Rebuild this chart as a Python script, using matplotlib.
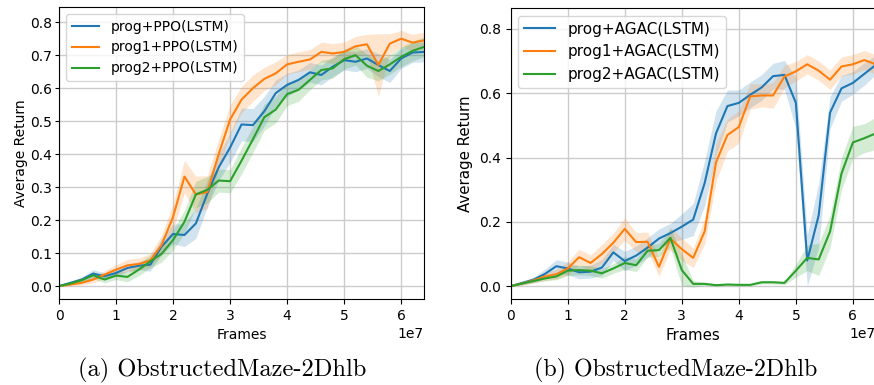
import numpy as np
import matplotlib
matplotlib.use("Agg")
import matplotlib.pyplot as plt

frames = np.arange(0, 33) * 2e6

# Panel (a): PPO
ppo_labels = ["prog+PPO(LSTM)", "prog1+PPO(LSTM)", "prog2+PPO(LSTM)"]
ppo_prog = [0, 0.01, 0.02, 0.038, 0.03, 0.04, 0.055, 0.062, 0.065, 0.12, 0.158, 0.155,
            0.19, 0.28, 0.36, 0.42, 0.49, 0.488, 0.53, 0.585, 0.61, 0.625, 0.648, 0.64,
            0.665, 0.685, 0.68, 0.69, 0.67, 0.652, 0.69, 0.708, 0.71]
ppo_prog1 = [0, 0.005, 0.01, 0.02, 0.035, 0.05, 0.063, 0.067, 0.078, 0.125, 0.21, 0.332,
             0.278, 0.285, 0.40, 0.505, 0.565, 0.60, 0.628, 0.645, 0.672, 0.68, 0.687, 0.71,
             0.705, 0.71, 0.727, 0.733, 0.67, 0.735, 0.75, 0.738, 0.745]
ppo_prog2 = [0, 0.008, 0.018, 0.033, 0.02, 0.032, 0.028, 0.05, 0.075, 0.098, 0.14, 0.195,
             0.278, 0.292, 0.32, 0.318, 0.38, 0.445, 0.512, 0.535, 0.582, 0.595, 0.625, 0.655,
             0.66, 0.688, 0.70, 0.668, 0.652, 0.672, 0.695, 0.713, 0.725]
ppo_prog_sd = [0, 0.004, 0.008, 0.012, 0.01, 0.01, 0.012, 0.012, 0.02, 0.025, 0.03, 0.035,
               0.045, 0.04, 0.04, 0.045, 0.05, 0.05, 0.045, 0.04, 0.035, 0.03, 0.03, 0.03,
               0.03, 0.03, 0.03, 0.03, 0.035, 0.035, 0.03, 0.03, 0.03]
ppo_prog1_sd = [0, 0.004, 0.006, 0.01, 0.012, 0.015, 0.018, 0.018, 0.02, 0.03, 0.04, 0.05,
                0.055, 0.05, 0.045, 0.045, 0.04, 0.04, 0.035, 0.035, 0.03, 0.03, 0.03, 0.03,
                0.03, 0.03, 0.03, 0.03, 0.095, 0.03, 0.025, 0.025, 0.025]
ppo_prog2_sd = [0, 0.005, 0.008, 0.01, 0.01, 0.012, 0.015, 0.018, 0.02, 0.025, 0.03, 0.035,
                0.04, 0.04, 0.035, 0.035, 0.04, 0.04, 0.04, 0.04, 0.035, 0.035, 0.03, 0.03,
                0.03, 0.03, 0.03, 0.035, 0.03, 0.03, 0.03, 0.03, 0.03]

# Panel (b): AGAC
agac_labels = ["prog+AGAC(LSTM)", "prog1+AGAC(LSTM)", "prog2+AGAC(LSTM)"]
agac_prog = [0, 0.01, 0.02, 0.038, 0.062, 0.055, 0.043, 0.045, 0.058, 0.105, 0.078, 0.095,
             0.12, 0.148, 0.165, 0.185, 0.207, 0.32, 0.475, 0.56, 0.57, 0.595, 0.618, 0.653,
             0.657, 0.57, 0.08, 0.22, 0.54, 0.615, 0.632, 0.66, 0.688]
agac_prog1 = [0, 0.008, 0.018, 0.03, 0.037, 0.055, 0.09, 0.072, 0.10, 0.135, 0.178, 0.137,
              0.138, 0.06, 0.148, 0.115, 0.088, 0.17, 0.385, 0.47, 0.495, 0.59, 0.593, 0.593,
              0.652, 0.668, 0.69, 0.67, 0.642, 0.683, 0.69, 0.703, 0.69]
agac_prog2 = [0, 0.008, 0.016, 0.024, 0.03, 0.048, 0.05, 0.048, 0.04, 0.055, 0.072, 0.065,
              0.11, 0.112, 0.15, 0.05, 0.007, 0.007, 0.003, 0.005, 0.004, 0.004, 0.012, 0.012,
              0.01, 0.048, 0.088, 0.083, 0.17, 0.35, 0.447, 0.46, 0.475]
agac_prog_sd = [0, 0.005, 0.008, 0.015, 0.02, 0.02, 0.02, 0.02, 0.025, 0.025, 0.03, 0.03,
                0.03, 0.03, 0.03, 0.04, 0.05, 0.07, 0.07, 0.05, 0.04, 0.04, 0.04, 0.04,
                0.045, 0.08, 0.08, 0.1, 0.05, 0.04, 0.035, 0.035, 0.03]
agac_prog1_sd = [0, 0.005, 0.008, 0.012, 0.015, 0.02, 0.025, 0.025, 0.03, 0.03, 0.035, 0.03,
                 0.03, 0.03, 0.035, 0.035, 0.03, 0.04, 0.06, 0.05, 0.05, 0.04, 0.035, 0.04,
                 0.035, 0.03, 0.03, 0.03, 0.03, 0.03, 0.03, 0.03, 0.03]
agac_prog2_sd = [0, 0.004, 0.006, 0.008, 0.01, 0.015, 0.015, 0.015, 0.015, 0.015, 0.02, 0.02,
                 0.02, 0.02, 0.03, 0.05, 0.01, 0.005, 0.004, 0.004, 0.004, 0.004, 0.005, 0.005,
                 0.005, 0.02, 0.04, 0.05, 0.05, 0.05, 0.05, 0.045, 0.05]

colors = ["#1f77b4", "#ff7f0e", "#2ca02c"]

fig = plt.figure(figsize=(8.74, 3.85), dpi=100)
ax1 = fig.add_axes([59 / 874, 1 - 299 / 385, 365 / 874, 292 / 385])
ax2 = fig.add_axes([510.7 / 874, 1 - 299 / 385, 365 / 874, 291 / 385])


def draw(ax, series, sds, labels, ylim, yticks, lab_fs, leg_fs):
    for y, sd, lab, c in zip(series, sds, labels, colors):
        y = np.array(y)
        sd = np.array(sd)
        ax.fill_between(frames, y - sd, y + sd, color=c, alpha=0.2, linewidth=0)
        ax.plot(frames, y, color=c, lw=1.5, label=lab)
    ax.set_xlim(0, 6.4e7)
    ax.set_ylim(*ylim)
    ax.set_yticks(yticks)
    ax.grid(True, color="#cccccc", linewidth=1.0)
    ax.set_axisbelow(True)
    ax.set_xlabel("Frames", fontsize=lab_fs)
    ax.tick_params(labelsize=10)
    ax.legend(loc="upper left", fontsize=leg_fs)


draw(ax1, [ppo_prog, ppo_prog1, ppo_prog2], [ppo_prog_sd, ppo_prog1_sd, ppo_prog2_sd],
     ppo_labels, (-0.039, 0.846), np.arange(0, 0.81, 0.1), 10, 10)
ax1.tick_params(axis="y", length=3, pad=2)
ax1.set_ylabel("Average Return", fontsize=10, labelpad=1.5)

draw(ax2, [agac_prog, agac_prog1, agac_prog2], [agac_prog_sd, agac_prog1_sd, agac_prog2_sd],
     agac_labels, (-0.04, 0.865), np.arange(0, 0.81, 0.2), 10.8, 11)
ax2.set_ylabel("Average Return", fontsize=10.8)

fig.text(222 / 874, 1 - 370 / 385, "(a) ObstructedMaze-2Dhlb", ha="center", va="center",
         family="cmr10", fontsize=17.6)
fig.text(676 / 874, 1 - 370 / 385, "(b) ObstructedMaze-2Dhlb", ha="center", va="center",
         family="cmr10", fontsize=17.2)

fig.savefig("out.png", dpi=100)
